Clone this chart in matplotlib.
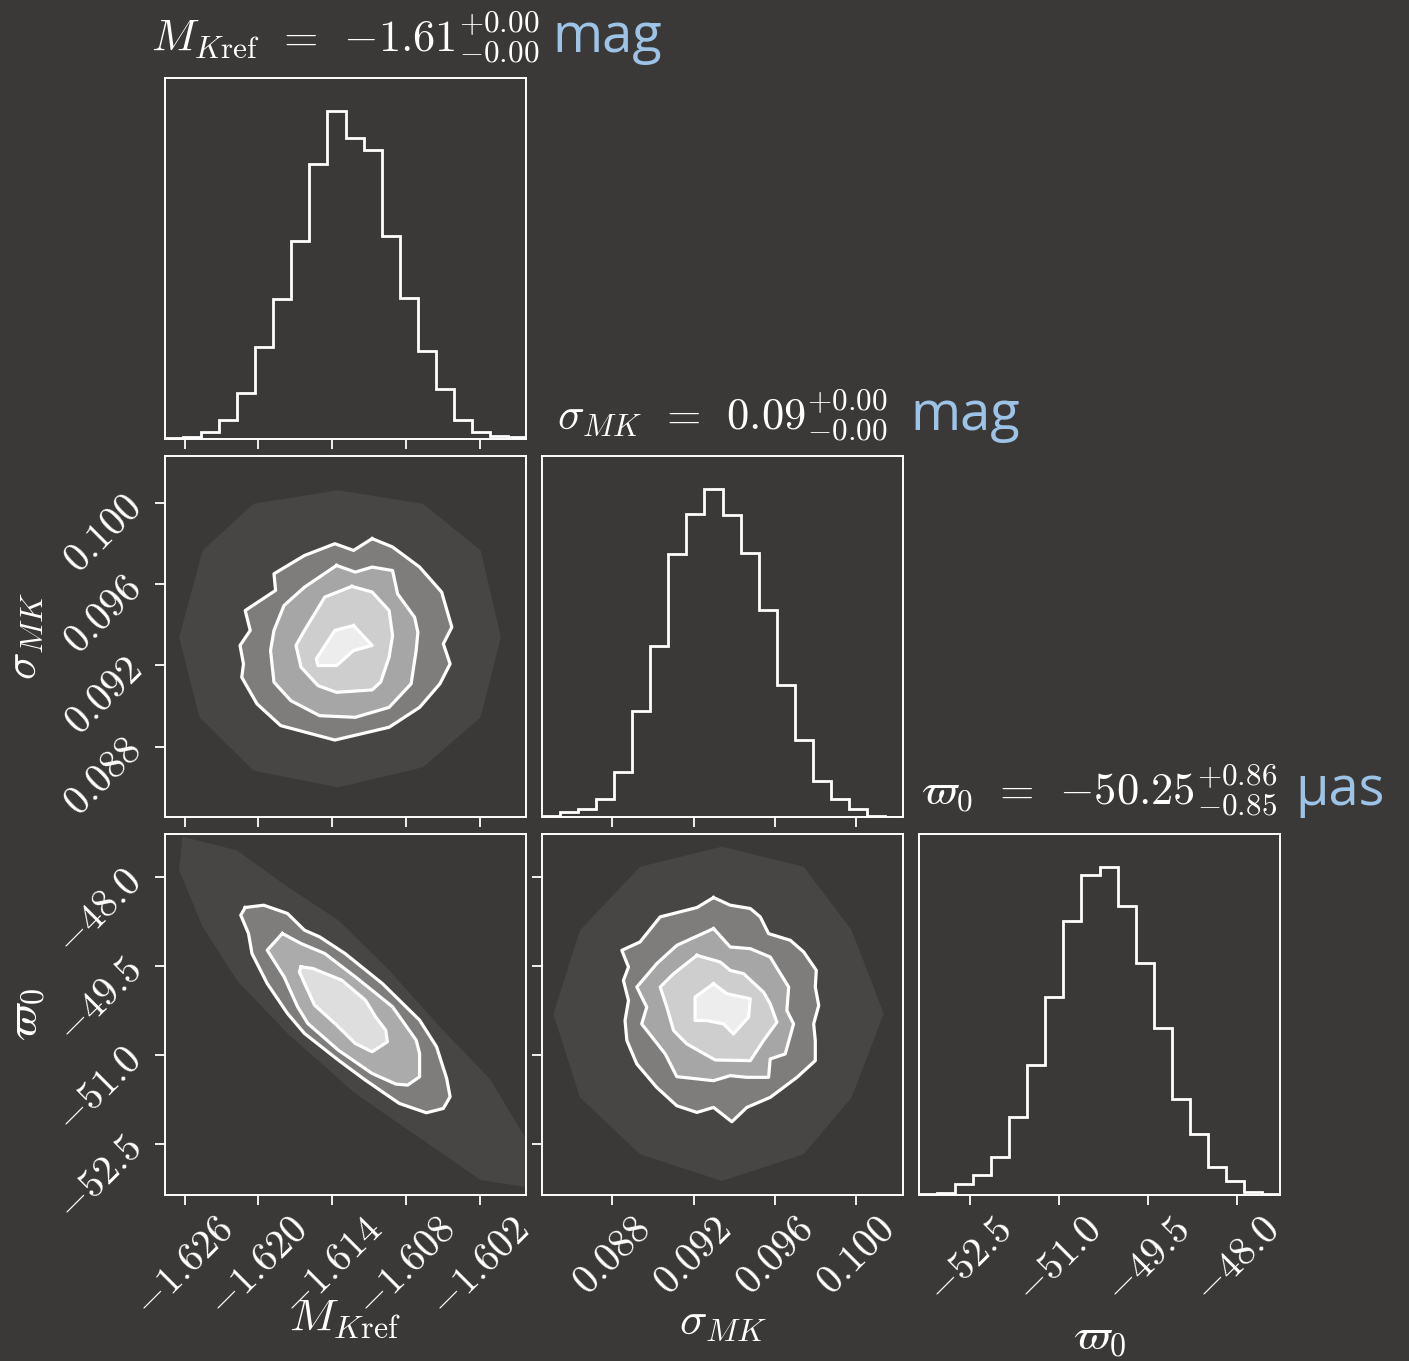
import numpy as np
import matplotlib
matplotlib.use("Agg")
import matplotlib.pyplot as plt

BG = "#3a3937"
UNIT_BLUE = "#9dc3e6"

plt.rcParams["mathtext.fontset"] = "cm"
plt.rcParams["font.family"] = ["DejaVu Sans"]

# axis ranges of the three parameters
mk_range = (-1.6276, -1.59825)
sig_range = (0.08453, 0.10231)
pi_range = (-53.36, -47.28)

mk_ticks = [-1.626, -1.620, -1.614, -1.608, -1.602]
mk_ticklabels = [r"$-1.626$", r"$-1.620$", r"$-1.614$", r"$-1.608$", r"$-1.602$"]
sig_ticks = [0.088, 0.092, 0.096, 0.100]
sig_ticklabels = [r"$0.088$", r"$0.092$", r"$0.096$", r"$0.100$"]
pi_ticks = [-52.5, -51.0, -49.5, -48.0]
pi_ticklabels = [r"$-52.5$", r"$-51.0$", r"$-49.5$", r"$-48.0$"]

# marginal histograms, 20 bins each (counts)
mk_counts = [3, 7, 22, 57, 138, 272, 415, 588, 816, 975, 895, 858, 602, 420, 260, 148, 57, 22, 8, 7]
sig_counts = [3, 15, 23, 55, 133, 317, 508, 782, 902, 977, 898, 787, 617, 393, 230, 107, 53, 23, 3, 1]
pi_counts = [3, 7, 33, 58, 113, 231, 385, 587, 813, 950, 974, 857, 689, 495, 285, 182, 82, 42, 8, 3]

titles = [r"$M_{K\mathrm{ref}}\;\,=\;\,{-}1.61^{+0.00}_{-0.00}$",
          r"$\sigma_{MK}\;\,=\;\,0.09^{+0.00}_{-0.00}$",
          r"$\varpi_0\;\,=\;\,{-}50.25^{+0.86}_{-0.85}$"]
units = ["mag", "mag", "µas"]
labels = [r"$M_{K\mathrm{ref}}$", r"$\sigma_{MK}$", r"$\varpi_0$"]

# sigma_MK vs M_Kref: point cloud outline and 2, 1.5, 1, 0.5 sigma contours
SIG_MK_CLOUD = [(-1.61351, 0.10062), (-1.60663, 0.09996), (-1.60194, 0.09766), (-1.60029, 0.09339),
                (-1.60194, 0.08944), (-1.60663, 0.08698), (-1.61351, 0.08599), (-1.62040, 0.08681),
                (-1.62480, 0.08944), (-1.62645, 0.09339), (-1.62453, 0.09766), (-1.62040, 0.09996)]
SIG_MK_L20 = [(-1.61076, 0.09824), (-1.60910, 0.09783), (-1.60690, 0.09684), (-1.60511, 0.09561),
              (-1.60428, 0.09388), (-1.60497, 0.09306), (-1.60442, 0.09207), (-1.60525, 0.09109),
              (-1.60690, 0.08993), (-1.60938, 0.08895), (-1.61379, 0.08832), (-1.61819, 0.08903),
              (-1.62012, 0.09010), (-1.62136, 0.09141), (-1.62122, 0.09207), (-1.62150, 0.09298),
              (-1.62067, 0.09372), (-1.62108, 0.09470), (-1.61861, 0.09569), (-1.61874, 0.09651),
              (-1.61626, 0.09741), (-1.61379, 0.09799), (-1.61227, 0.09766)]
SIG_MK_L15 = [(-1.61365, 0.09692), (-1.61213, 0.09659), (-1.61076, 0.09684), (-1.60910, 0.09667),
              (-1.60869, 0.09552), (-1.60731, 0.09437), (-1.60704, 0.09363), (-1.60718, 0.09273),
              (-1.60759, 0.09109), (-1.60938, 0.08993), (-1.61213, 0.08944), (-1.61503, 0.08952),
              (-1.61737, 0.09026), (-1.61874, 0.09117), (-1.61902, 0.09273), (-1.61874, 0.09372),
              (-1.61792, 0.09495), (-1.61626, 0.09585)]
SIG_MK_L10 = [(-1.61241, 0.09589), (-1.61076, 0.09561), (-1.60938, 0.09470), (-1.60910, 0.09347),
              (-1.60938, 0.09240), (-1.61007, 0.09117), (-1.61076, 0.09079), (-1.61365, 0.09067),
              (-1.61516, 0.09100), (-1.61654, 0.09191), (-1.61695, 0.09298), (-1.61626, 0.09372),
              (-1.61461, 0.09536)]
SIG_MK_L05 = [(-1.61227, 0.09396), (-1.61076, 0.09298), (-1.61227, 0.09273), (-1.61365, 0.09199),
              (-1.61516, 0.09199), (-1.61530, 0.09232), (-1.61379, 0.09372)]

# varpi_0 vs M_Kref
PI_MK_CLOUD = [(-1.62618, -47.328), (-1.62177, -47.553), (-1.61764, -48.170), (-1.61351, -48.731),
               (-1.60938, -49.573), (-1.60525, -50.527), (-1.60112, -51.425), (-1.59836, -52.379),
               (-1.59836, -53.221), (-1.60194, -53.109), (-1.60663, -52.435), (-1.61213, -51.650),
               (-1.61764, -50.639), (-1.62177, -49.741), (-1.62453, -48.844), (-1.62645, -47.890)]
PI_MK_L20 = [(-1.62108, -48.518), (-1.61957, -48.479), (-1.61764, -48.619), (-1.61626, -48.900),
             (-1.61503, -49.012), (-1.61296, -49.293), (-1.60993, -49.798), (-1.60690, -50.415),
             (-1.60552, -50.864), (-1.60470, -51.397), (-1.60442, -51.706), (-1.60497, -51.902),
             (-1.60635, -51.975), (-1.60855, -51.818), (-1.61131, -51.425), (-1.61351, -51.088),
             (-1.61626, -50.639), (-1.61764, -50.303), (-1.61929, -49.798), (-1.62053, -49.293),
             (-1.62081, -48.956), (-1.62144, -48.647)]
PI_MK_L15 = [(-1.61806, -48.956), (-1.61654, -49.124), (-1.61461, -49.293), (-1.61213, -49.685),
             (-1.60910, -50.190), (-1.60718, -50.752), (-1.60690, -50.976), (-1.60690, -51.369),
             (-1.60787, -51.509), (-1.60883, -51.492), (-1.61076, -51.313), (-1.61351, -50.920),
             (-1.61599, -50.471), (-1.61682, -50.190), (-1.61792, -49.685), (-1.61929, -49.236)]
PI_MK_L10 = [(-1.61654, -49.517), (-1.61558, -49.545), (-1.61324, -49.741), (-1.61131, -50.078),
             (-1.61048, -50.359), (-1.60966, -50.583), (-1.60952, -50.780), (-1.61076, -50.948),
             (-1.61213, -50.808), (-1.61379, -50.471), (-1.61544, -50.162), (-1.61613, -49.854),
             (-1.61668, -49.601)]

# varpi_0 vs sigma_MK
PI_SIG_CLOUD = [(0.09339, -47.494), (0.09742, -47.832), (0.09978, -48.901), (0.10136, -50.309),
                (0.09978, -51.716), (0.09742, -52.673), (0.09339, -53.124), (0.08936, -52.673),
                (0.08640, -51.716), (0.08509, -50.309), (0.08640, -48.901), (0.08936, -47.832)]
PI_SIG_L20 = [(0.09298, -48.350), (0.09380, -48.479), (0.09479, -48.535), (0.09528, -48.676),
              (0.09569, -48.958), (0.09676, -49.070), (0.09742, -49.267), (0.09804, -49.577),
              (0.09799, -49.858), (0.09816, -50.168), (0.09791, -50.478), (0.09799, -50.759),
              (0.09799, -51.097), (0.09709, -51.378), (0.09577, -51.716), (0.09462, -51.885),
              (0.09388, -52.127), (0.09298, -51.885), (0.09216, -51.969), (0.09117, -51.857),
              (0.09018, -51.547), (0.08920, -51.153), (0.08871, -50.759), (0.08862, -50.421),
              (0.08879, -50.084), (0.08854, -49.746), (0.08879, -49.521), (0.08846, -49.239),
              (0.08936, -49.098), (0.09035, -48.676), (0.09216, -48.519)]
PI_SIG_L15 = [(0.09298, -48.873), (0.09380, -49.183), (0.09479, -49.211), (0.09577, -49.352),
              (0.09668, -49.858), (0.09659, -50.252), (0.09692, -50.478), (0.09651, -50.984),
              (0.09577, -51.069), (0.09569, -51.378), (0.09462, -51.378), (0.09380, -51.350),
              (0.09298, -51.435), (0.09117, -51.367), (0.09060, -50.984), (0.08944, -50.478),
              (0.08969, -50.196), (0.08920, -49.858), (0.09018, -49.464), (0.09117, -49.155)]
PI_SIG_L10 = [(0.09216, -49.324), (0.09331, -49.436), (0.09380, -49.577), (0.09446, -49.633),
              (0.09544, -49.943), (0.09577, -50.140), (0.09610, -50.449), (0.09544, -50.759),
              (0.09479, -51.097), (0.09306, -51.086), (0.09166, -50.815), (0.09101, -50.590),
              (0.09068, -50.196), (0.09035, -49.858), (0.09101, -49.633)]
PI_SIG_L05 = [(0.09298, -49.802), (0.09364, -49.971), (0.09479, -50.055), (0.09470, -50.365),
              (0.09396, -50.647), (0.09347, -50.478), (0.09265, -50.421), (0.09207, -50.421),
              (0.09207, -50.027)]

W, H = 1409, 1361
LEFTS = [165, 542, 919]
TOPS = [78, 456, 834]
SIZE = 361

fig = plt.figure(figsize=(W / 100, H / 100), dpi=100, facecolor=BG)

ranges = [mk_range, sig_range, pi_range]
ticks = [mk_ticks, sig_ticks, pi_ticks]
ticklabels = [mk_ticklabels, sig_ticklabels, pi_ticklabels]
counts = [mk_counts, sig_counts, pi_counts]


def make_axes(row, col):
    ax = fig.add_axes([LEFTS[col] / W, 1 - (TOPS[row] + SIZE) / H, SIZE / W, SIZE / H])
    ax.set_facecolor(BG)
    for s in ax.spines.values():
        s.set_color("white")
        s.set_linewidth(1.4)
    ax.tick_params(direction="out", colors="white", length=7, width=1.3,
                   labelsize=29, top=False, right=False)
    return ax


def draw_cloud(ax, cloud, levels, alphas):
    xs, ys = zip(*cloud)
    ax.fill(xs, ys, color="white", alpha=alphas[0], lw=0, zorder=1)
    for lev, a in zip(levels, alphas[1:]):
        xs, ys = zip(*lev)
        ax.fill(xs, ys, color="white", alpha=a, lw=0, zorder=2)
    for lev in levels:
        xs, ys = zip(*(lev + lev[:1]))
        ax.plot(xs, ys, color="white", lw=2.3, zorder=3, solid_joinstyle="round")


axes = {}
for i in range(3):
    for j in range(i + 1):
        ax = make_axes(i, j)
        axes[(i, j)] = ax
        ax.set_xlim(*ranges[j])
        ax.set_xticks(ticks[j])
        if i == 2:
            ax.set_xticklabels(ticklabels[j], rotation=45)
        else:
            ax.set_xticklabels([])
        if i == j:
            edges = np.linspace(ranges[j][0], ranges[j][1], len(counts[j]) + 1)
            ax.stairs(counts[j], edges, color="white", lw=2.0, baseline=0)
            ax.set_ylim(0, 1.1 * max(counts[j]))
            ax.set_yticks([])
        else:
            ax.set_ylim(*ranges[i])
            ax.set_yticks(ticks[i])
            if j == 0:
                ax.set_yticklabels(ticklabels[i], rotation=45)
            else:
                ax.set_yticklabels([])

draw_cloud(axes[(1, 0)], SIG_MK_CLOUD, [SIG_MK_L20, SIG_MK_L15, SIG_MK_L10, SIG_MK_L05],
           [0.065, 0.30, 0.32, 0.46, 0.65])
draw_cloud(axes[(2, 0)], PI_MK_CLOUD, [PI_MK_L20, PI_MK_L15, PI_MK_L10],
           [0.065, 0.30, 0.36, 0.62])
draw_cloud(axes[(2, 1)], PI_SIG_CLOUD, [PI_SIG_L20, PI_SIG_L15, PI_SIG_L10, PI_SIG_L05],
           [0.065, 0.30, 0.32, 0.46, 0.65])

# titles and units over the diagonal panels
title_base = [52, 430, 805]
unit_x = [552, 910, 1295]
for k in range(3):
    cx = (LEFTS[k] + SIZE / 2) / W
    fig.text(cx, 1 - title_base[k] / H, titles[k], color="white", fontsize=32,
             ha="center", va="baseline")
    fig.text(unit_x[k] / W, 1 - title_base[k] / H, units[k], color=UNIT_BLUE,
             fontsize=39, family="Open Sans", ha="left", va="baseline")

# axis labels
xlabel_y = [-0.28, -0.29, -0.33]
for j in range(3):
    ax = axes[(2, j)]
    ax.set_xlabel(labels[j], color="white", fontsize=33)
    ax.xaxis.set_label_coords(0.5, xlabel_y[j])
for i in (1, 2):
    ax = axes[(i, 0)]
    ax.set_ylabel(labels[i], color="white", fontsize=33)
    ax.yaxis.set_label_coords(-0.328, 0.5)

fig.savefig("out.png", dpi=100, facecolor=BG)
